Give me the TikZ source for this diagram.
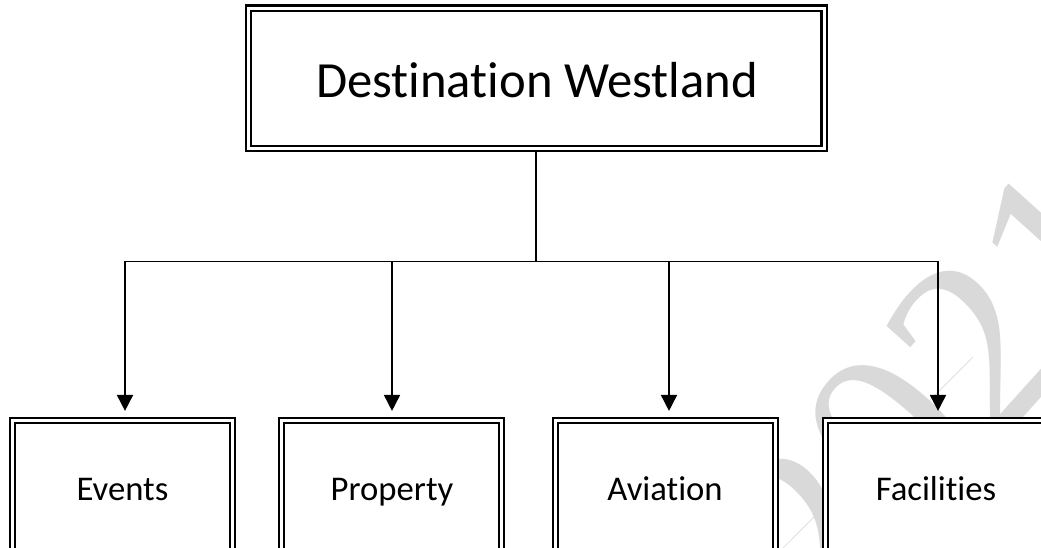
\documentclass[tikz,border=0pt]{standalone}
\usepackage{fontspec}
\setmainfont{Carlito}[Ligatures={NoCommon}]
\newfontfamily\wmfont{Liberation Serif}
\usetikzlibrary{arrows.meta}
\pgfdeclarelayer{wmlayer}
\pgfdeclarelayer{connlayer}
\pgfsetlayers{wmlayer,connlayer,main}
\begin{document}
\begin{tikzpicture}[x=0.75pt,y=-0.75pt,
  dbox/.style={rectangle, draw=black, fill=white, double=white, line width=1.6pt, double distance=2.3pt, inner sep=0pt, outer sep=0pt},
  smallbox/.style={dbox, minimum width=165pt, minimum height=105.75pt},
  lbl/.style={font=\fontsize{26}{30}\selectfont, anchor=base, inner sep=0pt, text=black},
  conn/.style={line width=1.3pt, draw=black},
  arr/.style={conn, -{Triangle[length=12pt,width=12pt]}, shorten >=7.4pt},
  wmark/.style={text=black!15, rotate=48, font=\wmfont\fontsize{190}{190}\selectfont, inner sep=0pt}]
\useasboundingbox (0,0) rectangle (1041,548);

% boxes
\node[dbox, minimum width=431.8pt, minimum height=105.2pt] (top) at (536.2,78.2) {};
\node[lbl, font=\fontsize{38}{44}\selectfont] (toptxt) at (537,97.5) {Destination Westland};

\node[smallbox] (ev) at (122.5,491.3) {};
\node[smallbox] (pr) at (391.5,491.3) {};
\node[smallbox] (av) at (665.5,491.3) {};
\node[smallbox] (fa) at (935.5,491.3) {};

\node[lbl] (evt) at (122.5,500) {Events};
\node[lbl] (prt) at (392,500) {Property};
\node[lbl] (avt) at (665,500) {Aviation};
\node[lbl] (fat) at (936,500) {Facilities};

% junctions
\coordinate (jt) at (536.2,261.5);
\coordinate (b1) at (125,261.5);
\coordinate (b2) at (392,261.5);
\coordinate (b3) at (669,261.5);
\coordinate (b4) at (938,261.5);

\begin{pgfonlayer}{connlayer}
\draw[conn] (top.south) -- (jt);
\draw[conn, line cap=rect] (b1) -- (b4);
\draw[arr] (b1) -- (b1 |- ev.north);
\draw[arr] (b2) -- (b2 |- pr.north);
\draw[arr] (b3) -- (b3 |- av.north);
\draw[arr] (b4) -- (b4 |- fa.north);
\end{pgfonlayer}

\begin{pgfonlayer}{wmlayer}
\node[wmark] (wm) at (935,392) {2021};
\coordinate (wl1) at (783,548);
\coordinate (wl2) at (973,357);
\draw[black!15, line width=0.5pt] (wl1) -- (wl2);
\end{pgfonlayer}
\end{tikzpicture}
\end{document}
